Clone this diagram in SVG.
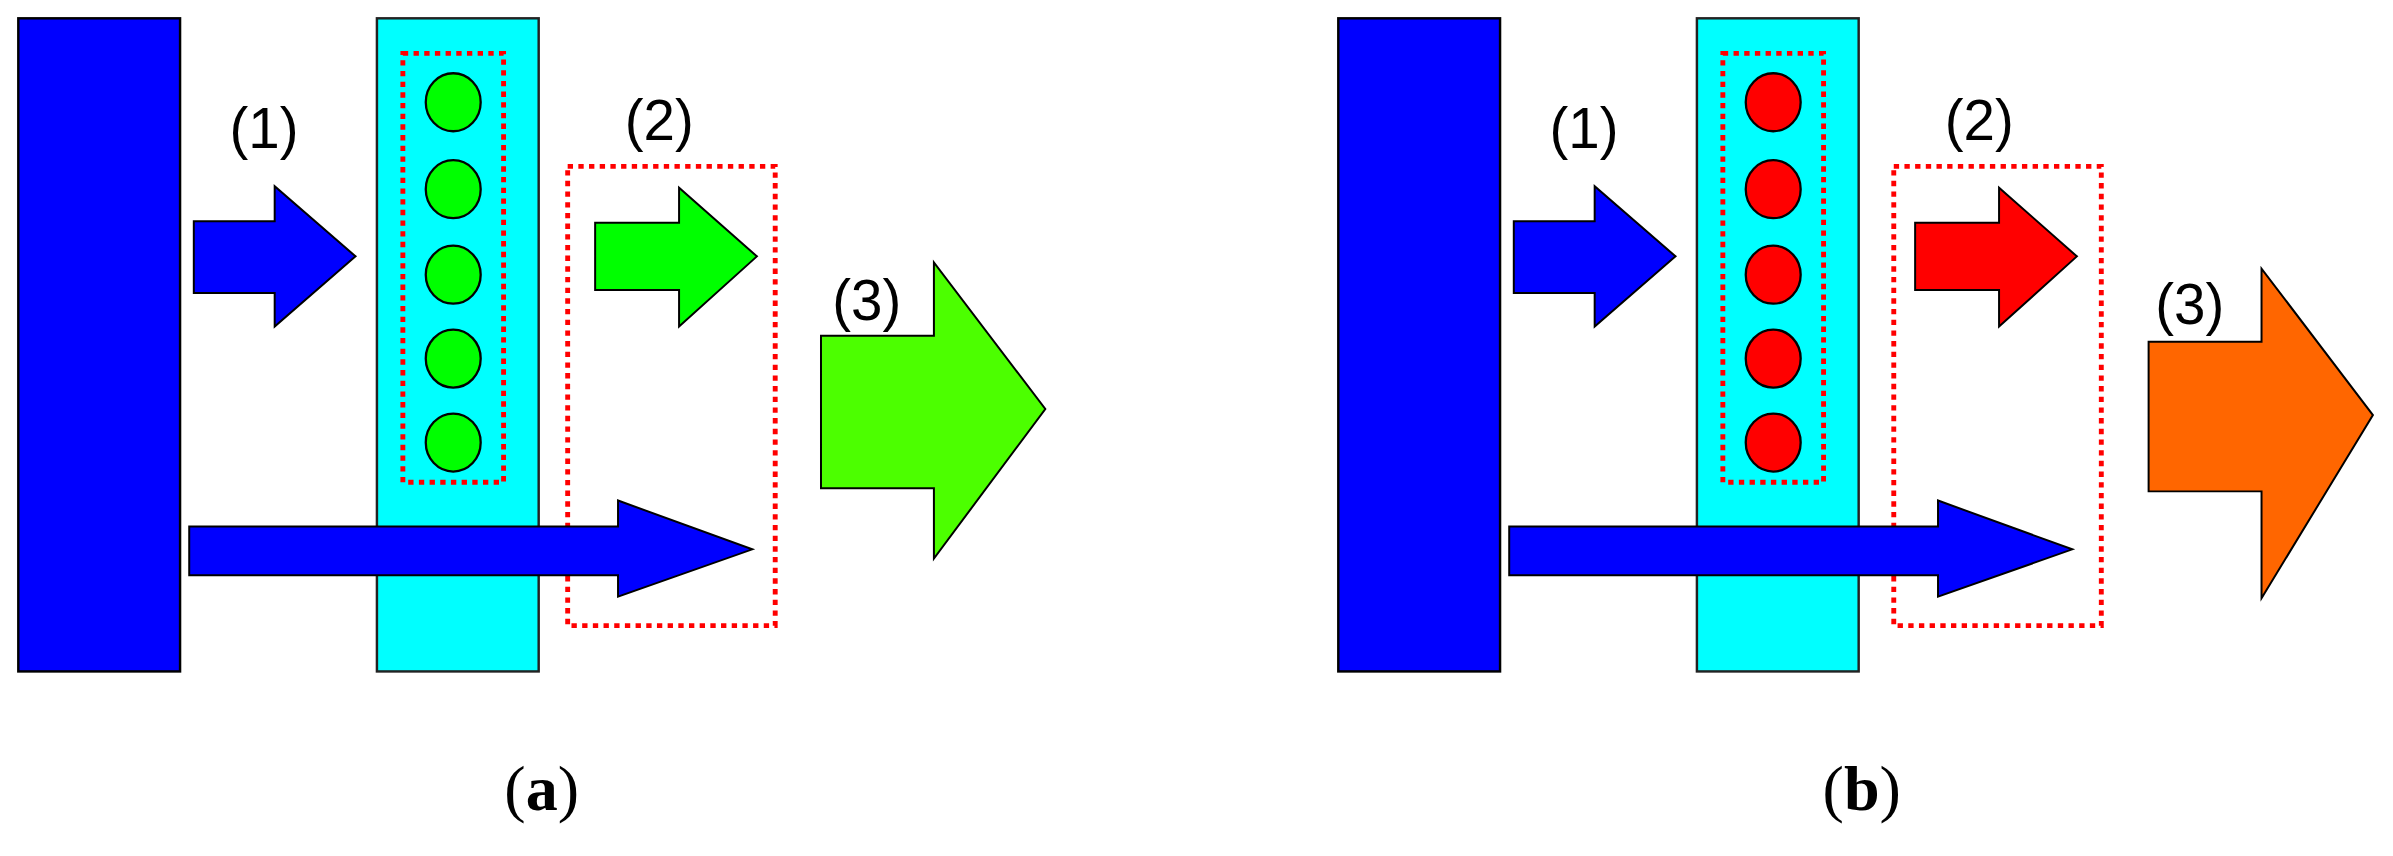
<svg xmlns="http://www.w3.org/2000/svg" width="2393" height="856" viewBox="0 0 2393 856">
<style>
.bar{fill:#0000ff;stroke:#000;stroke-width:1.6}
.cy{fill:#00ffff;stroke:#222;stroke-width:1.6}
.dot{fill:none;stroke:#ff0000;stroke-width:3.2;stroke-dasharray:3.5 3.5}
.ar{stroke:#000;stroke-width:1.3}
.lbl{font-family:"Liberation Sans",Arial,sans-serif;font-size:37px;fill:#000;text-anchor:middle}
.cap{font-family:"Liberation Serif","Times New Roman",serif;font-size:42px;fill:#000;text-anchor:middle}
</style>
<rect width="2393" height="856" fill="#fff"/>
<g transform="scale(1.526)">
<g id="panel-a">
 <g id="a-source"><rect class="bar" x="12" y="12" width="106" height="428"/></g>
 <g id="a-layer"><rect class="cy" x="247" y="12" width="106" height="428"/>
  <rect class="dot" x="264" y="35" width="66" height="281"/>
  <g fill="#00ff00" stroke="#000" stroke-width="1.5">
   <ellipse cx="297" cy="67" rx="18" ry="19"/><ellipse cx="297" cy="124" rx="18" ry="19"/><ellipse cx="297" cy="180" rx="18" ry="19"/><ellipse cx="297" cy="235" rx="18" ry="19"/><ellipse cx="297" cy="290" rx="18" ry="19"/>
  </g></g>
 <g id="a-box2"><rect class="dot" x="372" y="109" width="136" height="301"/></g>
 <g id="a-arrows">
  <polygon class="ar" fill="#0000ff" points="127,145 180,145 180,122 233,168 180,214 180,192 127,192"/>
  <polygon class="ar" fill="#00ff00" points="390,146 445,146 445,123 496,168 445,214 445,190 390,190"/>
  <polygon class="ar" fill="#0000ff" points="124,345 405,345 405,328 493,360 405,391 405,377 124,377"/>
  <polygon class="ar" fill="#4cff00" points="538,220 612,220 612,172 685,268 612,366 612,320 538,320"/>
 </g>
 <text class="lbl" x="173" y="97">(1)</text>
 <text class="lbl" x="432" y="92">(2)</text>
 <text class="lbl" x="568" y="210">(3)</text>
 <text class="cap" x="355" y="531">(<tspan font-weight="bold">a</tspan>)</text>
</g>
<g id="panel-b" transform="translate(865,0)">
 <g id="b-source"><rect class="bar" x="12" y="12" width="106" height="428"/></g>
 <g id="b-layer"><rect class="cy" x="247" y="12" width="106" height="428"/>
  <rect class="dot" x="264" y="35" width="66" height="281"/>
  <g fill="#ff0000" stroke="#000" stroke-width="1.5">
   <ellipse cx="297" cy="67" rx="18" ry="19"/><ellipse cx="297" cy="124" rx="18" ry="19"/><ellipse cx="297" cy="180" rx="18" ry="19"/><ellipse cx="297" cy="235" rx="18" ry="19"/><ellipse cx="297" cy="290" rx="18" ry="19"/>
  </g></g>
 <g id="b-box2"><rect class="dot" x="376" y="109" width="136" height="301"/></g>
 <g id="b-arrows">
  <polygon class="ar" fill="#0000ff" points="127,145 180,145 180,122 233,168 180,214 180,192 127,192"/>
  <polygon class="ar" fill="#ff0000" points="390,146 445,146 445,123 496,168 445,214 445,190 390,190"/>
  <polygon class="ar" fill="#0000ff" points="124,345 405,345 405,328 493,360 405,391 405,377 124,377"/>
  <polygon class="ar" fill="#ff6600" points="543,224 617,224 617,176 690,272 617,392 617,322 543,322"/>
 </g>
 <text class="lbl" x="173" y="97">(1)</text>
 <text class="lbl" x="432" y="92">(2)</text>
 <text class="lbl" x="570" y="212">(3)</text>
 <text class="cap" x="355" y="531">(<tspan font-weight="bold">b</tspan>)</text>
</g>
</g>
</svg>
